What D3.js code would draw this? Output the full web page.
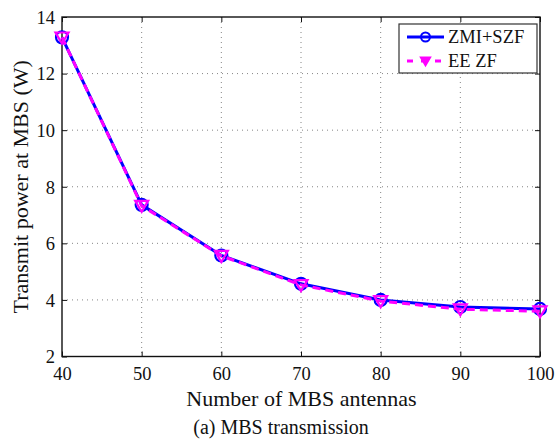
<!DOCTYPE html>
<html><head><meta charset="utf-8">
<script src="https://cdn.jsdelivr.net/npm/d3@7"></script>
<style>body{margin:0;background:#fff}svg{display:block}</style>
</head><body><svg id="c" width="558" height="439"></svg>
<script>
const antennas = [40, 50, 60, 70, 80, 90, 100];
const zmiSzf = [13.28, 7.36, 5.57, 4.57, 4.0, 3.75, 3.68];
const eeZf   = [13.28, 7.33, 5.56, 4.53, 3.96, 3.67, 3.60];
const xTicks = [40, 50, 60, 70, 80, 90, 100];
const yTicks = [2, 4, 6, 8, 10, 12, 14];
const seriesNames = ["ZMI+SZF", "EE ZF"];

const FONT = "'Liberation Serif', Tinos, 'Times New Roman', Times, 'DejaVu Serif', 'Noto Serif', serif";
const svg = d3.select("#c").attr("font-family", FONT);
const L = 62, R = 540, T = 17, B = 356.5;
const x = d3.scaleLinear().domain([40, 100]).range([L, R]);
const y = d3.scaleLinear().domain([2, 14]).range([B, T]);

// grid
const g = svg.append("g");
g.selectAll(".gx").data(xTicks.slice(1, -1)).join("line")
  .attr("x1", d => x(d)).attr("x2", d => x(d)).attr("y1", T).attr("y2", B)
  .attr("stroke", "#666").attr("stroke-width", 0.8).attr("stroke-dasharray", "1,4");
g.selectAll(".gy").data(yTicks.slice(1, -1)).join("line")
  .attr("y1", d => y(d)).attr("y2", d => y(d)).attr("x1", L).attr("x2", R)
  .attr("stroke", "#666").attr("stroke-width", 0.8).attr("stroke-dasharray", "1,4");

// axes
const tfs = "18.5px";
const ax = svg.append("g").attr("transform", `translate(0,${B})`)
  .call(d3.axisBottom(x).tickValues(xTicks).tickSize(-5).tickPadding(9).tickFormat(d3.format("d")));
const axT = svg.append("g").attr("transform", `translate(0,${T})`)
  .call(d3.axisTop(x).tickValues(xTicks).tickSize(-5).tickFormat(""));
const ay = svg.append("g").attr("transform", `translate(${L},0)`)
  .call(d3.axisLeft(y).tickValues(yTicks).tickSize(-5).tickPadding(7).tickFormat(d3.format("d")));
const ayR = svg.append("g").attr("transform", `translate(${R},0)`)
  .call(d3.axisRight(y).tickValues(yTicks).tickSize(-5).tickFormat(""));
[ax, axT, ay, ayR].forEach(a => {
  a.attr("font-family", FONT).attr("font-size", tfs);
  a.select(".domain").remove();
  a.selectAll(".tick line").attr("stroke", "#111").attr("stroke-width", 1);
  a.selectAll("text").attr("fill", "#111");
});
ax.selectAll("text").attr("dy", null).attr("y", 23);
ay.selectAll("text").attr("dy", "0.34em");
svg.append("rect").attr("x", L).attr("y", T).attr("width", R - L).attr("height", B - T)
  .attr("fill", "none").attr("stroke", "#111").attr("stroke-width", 1.4);

// lines
const line = d3.line().x((d, i) => x(antennas[i])).y(d => y(d));
svg.append("path").datum(zmiSzf).attr("d", line).attr("fill", "none")
  .attr("stroke", "#0000ff").attr("stroke-width", 3);
svg.selectAll(".c1").data(zmiSzf).join("circle")
  .attr("cx", (d, i) => x(antennas[i])).attr("cy", d => y(d)).attr("r", 6)
  .attr("fill", "none").attr("stroke", "#0000ff").attr("stroke-width", 2.2);
svg.append("path").datum(eeZf).attr("d", line).attr("fill", "none")
  .attr("stroke", "#ff00ff").attr("stroke-width", 3).attr("stroke-dasharray", "8,5");
const tri = (cx, cy, s) => `M${cx - s},${cy - s * 0.75}L${cx + s},${cy - s * 0.75}L${cx},${cy + s * 0.95}Z`;
svg.selectAll(".t1").data(eeZf).join("path")
  .attr("d", (d, i) => tri(x(antennas[i]), y(d), 6.5))
  .attr("fill", "none").attr("stroke", "#ff00ff").attr("stroke-width", 2.2);

// legend
const lg = svg.append("g");
lg.append("rect").attr("x", 399).attr("y", 24).attr("width", 138).attr("height", 49)
  .attr("fill", "#fff").attr("stroke", "#333").attr("stroke-width", 1.2);
lg.append("line").attr("x1", 407).attr("x2", 444).attr("y1", 37).attr("y2", 37)
  .attr("stroke", "#0000ff").attr("stroke-width", 3);
lg.append("circle").attr("cx", 425.5).attr("cy", 37).attr("r", 4.5)
  .attr("fill", "none").attr("stroke", "#0000ff").attr("stroke-width", 2);
lg.append("line").attr("x1", 407).attr("x2", 444).attr("y1", 61).attr("y2", 61)
  .attr("stroke", "#ff00ff").attr("stroke-width", 3).attr("stroke-dasharray", "6,8");
lg.append("path").attr("d", tri(425.5, 61, 5)).attr("fill", "#ff00ff")
  .attr("stroke", "#ff00ff").attr("stroke-width", 1.5);
lg.selectAll(".lt").data(seriesNames).join("text")
  .attr("x", 448).attr("y", (d, i) => 43 + i * 24).attr("font-size", "18.5px").attr("fill", "#111").text(d => d);

// labels
svg.append("text").attr("x", (L + R) / 2 + 0.5).attr("y", 406).attr("text-anchor", "middle")
  .attr("font-size", "22px").attr("fill", "#111").text("Number of MBS antennas");
svg.append("text").attr("transform", `translate(28,${(T + B) / 2}) rotate(-90)`)
  .attr("text-anchor", "middle").attr("font-size", "22px").attr("fill", "#111").text("Transmit power at MBS (W)");
svg.append("text").attr("x", 281).attr("y", 434).attr("text-anchor", "middle")
  .attr("font-size", "20px").attr("fill", "#111").text("(a) MBS transmission");

svg.selectAll("text").style("font-family", FONT);
</script></body></html>
